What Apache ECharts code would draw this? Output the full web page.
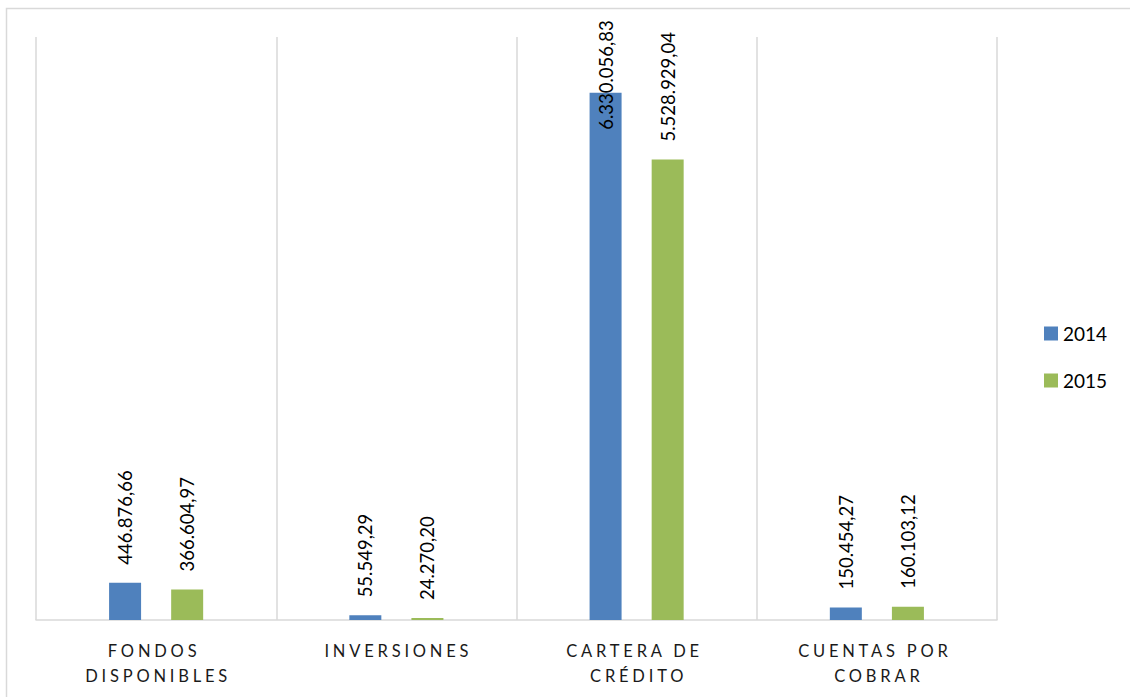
<!DOCTYPE html>
<html><head><meta charset="utf-8">
<script src="https://cdn.jsdelivr.net/npm/echarts@6/dist/echarts.min.js"></script>
<style>html,body{margin:0;padding:0;background:#fff}#c{width:1130px;height:697px}</style>
</head><body><div id="c"></div>
<script>
const categories = ['FONDOS DISPONIBLES', 'INVERSIONES', 'CARTERA DE CRÉDITO', 'CUENTAS POR COBRAR'];
const seriesNames = ['2014', '2015'];
const values2014 = [446876.66, 55549.29, 6330056.83, 150454.27];
const values2015 = [366604.97, 24270.20, 5528929.04, 160103.12];

function fmt(v) {
  const parts = v.toFixed(2).split('.');
  const intPart = parts[0].replace(/\B(?=(\d{3})+(?!\d))/g, '.');
  return intPart + ',' + parts[1];
}
const FONT = 'Lato, "Open Sans", sans-serif';
const labelBase = {
  show: true, position: 'top', distance: 18, rotate: 90, align: 'left', verticalAlign: 'middle',
  fontFamily: FONT, fontSize: 18.5, color: '#000', formatter: p => fmt(p.value)
};
function mk(vals) {
  const maxV = Math.max(...values2014, ...values2015);
  return vals.map(v => v === maxV ? { value: v, label: { position: ['50%', 37] } } : v);
}
const chart = echarts.init(document.getElementById('c'), null, { renderer: 'svg' });
chart.setOption({
  animation: false,
  graphic: [{ type: 'rect', shape: { x: 6.5, y: 8.5, width: 1200, height: 800 }, style: { fill: 'none', stroke: '#d9d9d9', lineWidth: 1.5 } }],
  grid: { left: 36, right: 133, top: 37, bottom: 77 },
  legend: {
    orient: 'vertical', left: 1039, top: 319, itemWidth: 14, itemHeight: 14, itemGap: 28,
    icon: 'rect', textStyle: { fontFamily: FONT, fontSize: 19, color: '#000' }, data: seriesNames
  },
  xAxis: {
    type: 'category', data: categories,
    axisLine: { lineStyle: { color: '#d9d9d9', width: 1.5 } },
    axisTick: { show: false },
    splitLine: { show: true, lineStyle: { color: '#d9d9d9', width: 1.5 } },
    axisLabel: { margin: 18, fontFamily: FONT, fontSize: 16.5, color: '#1a1a1a', lineHeight: 25, width: 130, overflow: 'break', interval: 0 }
  },
  yAxis: { type: 'value', min: 0, max: 7000000, interval: 1000000, show: false, splitLine: { show: false } },
  series: [
    { name: seriesNames[0], type: 'bar', data: mk(values2014), barWidth: 32, barGap: '94%', itemStyle: { color: '#4F81BD' }, label: labelBase },
    { name: seriesNames[1], type: 'bar', data: mk(values2015), barWidth: 32, barGap: '94%', itemStyle: { color: '#9BBB59' }, label: labelBase }
  ]
});
// letter spacing on category axis labels (as in the reference)
const words = new Set(categories.join(' ').split(' '));
function spaceLabels() {
  document.querySelectorAll('#c svg text').forEach(t => {
    const s = t.textContent.trim();
    if (s && s.split(' ').every(w => words.has(w))) {
      t.style.letterSpacing = '3.8px';
      t.setAttribute('dx', '2');
    }
  });
}
spaceLabels();
chart.on('finished', spaceLabels);
</script></body></html>
